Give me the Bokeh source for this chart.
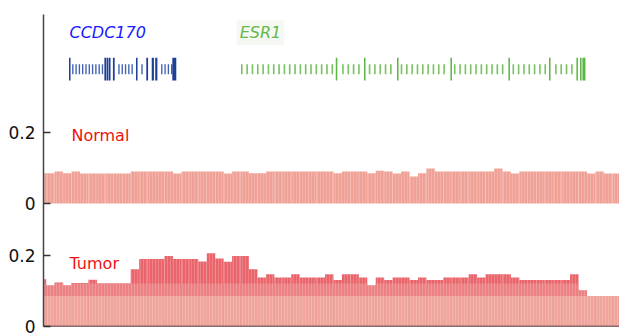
import numpy as np
from bokeh.plotting import figure
from bokeh.models import ColumnDataSource, FixedTicker, Span, Range1d, Label
from bokeh.core.properties import value
from bokeh.embed import file_html
from bokeh.resources import INLINE

# ---- coverage data (one value per genomic bin; bin -1 is cut by the left edge)
bin_index = list(range(-1, 68))

normal_cov = [
    0.085, 0.085, 0.090, 0.085, 0.090,
    0.084, 0.084, 0.084, 0.084, 0.084, 0.084,
    0.090, 0.090, 0.090, 0.090, 0.090,
    0.084,
    0.090, 0.090, 0.090, 0.090, 0.090,
    0.084,
    0.090, 0.090,
    0.085, 0.085,
    0.090, 0.090, 0.090, 0.090, 0.090, 0.090, 0.090, 0.090,
    0.085,
    0.090, 0.090, 0.090,
    0.085,
    0.092, 0.090,
    0.084,
    0.090,
    0.076,
    0.085,
    0.098,
    0.090, 0.090, 0.090, 0.090, 0.090, 0.090, 0.090,
    0.098,
    0.090,
    0.084,
    0.090, 0.090, 0.090, 0.090, 0.090, 0.090, 0.090, 0.090,
    0.084,
    0.090,
    0.084, 0.084,
]

tumor_cov = [
    0.132, 0.115, 0.123, 0.115, 0.122, 0.122, 0.131,
    0.120, 0.120, 0.120, 0.120,
    0.160,
    0.189, 0.189, 0.189,
    0.197,
    0.189, 0.189, 0.189,
    0.182, 0.205, 0.190, 0.181,
    0.197, 0.197,
    0.160, 0.137, 0.146,
    0.137, 0.137,
    0.146,
    0.137, 0.137, 0.137,
    0.146, 0.130,
    0.146, 0.146,
    0.137, 0.115, 0.137, 0.130,
    0.137, 0.137,
    0.130, 0.137,
    0.130, 0.130,
    0.137, 0.137, 0.137,
    0.146, 0.137,
    0.146, 0.146, 0.146,
    0.137,
    0.130, 0.130, 0.130, 0.130, 0.130, 0.130,
    0.146, 0.101,
    0.085, 0.085, 0.085, 0.085,
]

tick_values = [0, 0.2]
tick_labels = ["0", "0.2"]

# ---- gene models (positions in bin units)
ccdc170_span = (2.76, 15.42)
ccdc170_exons = [2.79, 6.99, 7.25, 7.51, 8.00, 10.72, 11.95, 12.62, 13.03, 15.16]
ccdc170_exon_w = [0.18, 0.21, 0.21, 0.21, 0.21, 0.18, 0.21, 0.26, 0.26, 0.47]

esr1_span = (22.52, 63.95)
esr1_exons = [34.36, 37.70, 41.61, 47.93, 54.79, 59.60, 62.84, 63.27, 63.64]
esr1_exon_w = [0.18, 0.18, 0.18, 0.18, 0.18, 0.18, 0.18, 0.18, 0.36]

gene_names = ["CCDC170", "ESR1"]
track_names = ["Normal", "Tumor"]

# ---- layout constants (value units on the shared y axis)
NORMAL_BASE = 0.344
Y_TOP = 0.873
GENE_Y = 0.720
EXON_H = 0.064
TICK_H = 0.028
MID_BAND = 0.120
LOW_BAND = 0.085

FONT = value("DejaVu Sans")

p = figure(width=619, height=336, output_backend="svg", toolbar_location=None,
           x_range=Range1d(-0.32, 67.85), y_range=Range1d(0, Y_TOP),
           min_border_left=43, min_border_right=0, min_border_top=14,
           min_border_bottom=10)
p.xaxis.visible = False
p.xgrid.visible = False
p.ygrid.visible = False
p.outline_line_color = None
p.background_fill_color = "white"
p.border_fill_color = "white"

# y axis: two tracks sharing one axis line
ticks = [v for v in tick_values] + [NORMAL_BASE + v for v in tick_values]
labels = tick_labels + tick_labels
p.yaxis.ticker = FixedTicker(ticks=ticks)
p.yaxis.major_label_overrides = {t: l for t, l in zip(ticks, labels)}
p.yaxis.minor_tick_line_color = None
p.yaxis.major_tick_in = 7
p.yaxis.major_tick_out = 0
p.yaxis.major_tick_line_color = "#333333"
p.yaxis.major_tick_line_width = 1.5
p.yaxis.axis_line_color = "#444444"
p.yaxis.axis_line_width = 1.5
p.yaxis.major_label_standoff = 8
p.yaxis.major_label_text_font = "DejaVu Sans"
p.yaxis.major_label_text_font_size = "17px"
p.yaxis.major_label_text_color = "#111111"

xs = [i + 0.5 for i in bin_index]
stripes = dict(hatch_pattern="|", hatch_scale=3, hatch_color="white",
               hatch_alpha=0.18, hatch_weight=1)

# Normal track
n = np.array(normal_cov)
src_n = ColumnDataSource(dict(x=xs, top=NORMAL_BASE + n,
                              bottom=np.full(len(n), NORMAL_BASE)))
p.vbar(x="x", width=1, top="top", bottom="bottom", source=src_n,
       fill_color="#f0a196", line_color=None, **stripes)

# Tumor track, shaded in three value bands
t = np.array(tumor_cov)
for top, color in [(t, "#e9656b"),
                   (np.minimum(t, MID_BAND), "#ec8183"),
                   (np.minimum(t, LOW_BAND), "#efa59c")]:
    p.vbar(x=xs, width=1, top=top, bottom=0, fill_color=color,
           line_color=None, **stripes)

p.add_layout(Span(location=0, dimension="width", line_color="#222222",
                  line_width=1.5))

# gene structures: exons as tall bars, strand ticks along the introns
def draw_gene(span, exons, widths, dark, light, step, tick_w):
    marks = np.arange(span[0] + step, span[1], step)
    ex = np.array(exons)
    marks = [m for m in marks if np.min(np.abs(ex - m)) > 0.3]
    p.rect(x=marks, y=GENE_Y, width=tick_w, height=TICK_H,
           fill_color=light, line_color=None)
    p.rect(x=exons, y=GENE_Y, width=widths, height=EXON_H,
           fill_color=dark, line_color=None)

draw_gene(ccdc170_span, ccdc170_exons, ccdc170_exon_w, "#1d3f96", "#3f60b0", 0.39, 0.16)
draw_gene(esr1_span, esr1_exons, esr1_exon_w, "#5cb544", "#78c360", 0.63, 0.19)

# labels
p.text(x=[ccdc170_span[0]], y=[0.822], text=[gene_names[0]], text_font=FONT,
       text_font_size="16px", text_font_style="italic", text_color="#1a1aff",
       text_baseline="middle", text_align="left")
p.add_layout(Label(x=esr1_span[0] + 0.02, y=0.822, text=gene_names[1],
                   text_font="DejaVu Sans", text_font_size="16px",
                   text_font_style="italic", text_color="#64b84c",
                   text_baseline="middle", text_align="left",
                   background_fill_color="#f6f9f3", padding=3))
p.text(x=[2.99], y=[0.534], text=[track_names[0]], text_font=FONT,
       text_font_size="16px", text_color="#ee1111",
       text_baseline="middle", text_align="left")
p.text(x=[2.76], y=[0.176], text=[track_names[1]], text_font=FONT,
       text_font_size="16px", text_color="#ee1111",
       text_baseline="middle", text_align="left")

open("out.html", "w").write(file_html(p, INLINE))
